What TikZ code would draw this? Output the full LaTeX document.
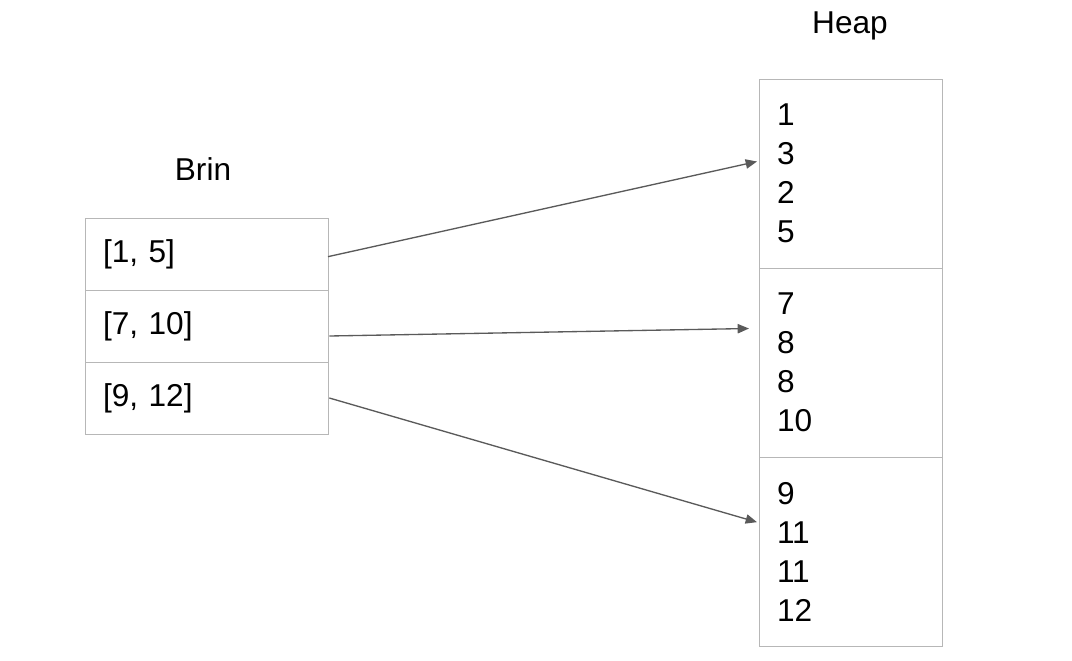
\documentclass[tikz,border=0pt]{standalone}
\usepackage{fontspec}
\setmainfont{Liberation Sans}
\usetikzlibrary{arrows.meta, positioning}
\definecolor{boxgray}{HTML}{B7B7B7}
\definecolor{arrowgray}{HTML}{5A5A5A}

\begin{document}
\begin{tikzpicture}[x=0.75pt, y=-0.75pt, node distance=0pt,
	font=\fontsize{23.7}{29.25}\selectfont,
	cell/.style={draw=boxgray, line width=0.75pt, outer sep=0pt, inner xsep=13.5pt, align=left},
	rangebox/.style={cell, text width=155.25pt, minimum height=54pt},
	pagebox/.style={cell, text width=110.25pt, minimum height=141.75pt},
	link/.style={draw=arrowgray, line width=1pt, -{Triangle[length=8.5pt, width=7pt]}}]
			\useasboundingbox (0,0) rectangle (1072,661);

			% titles
			\node (brin) [anchor=base] at (203,180) {Brin};
			\node (heap) [anchor=base] at (850,33) {Heap};

			% index ranges
			\node (r1) [rangebox, anchor=north west] at (85,218) {[1, 5]};
			\node (r2) [rangebox, below=of r1] {[7, 10]};
			\node (r3) [rangebox, below=of r2] {[9, 12]};

			% heap pages
			\node (h1) [pagebox, anchor=north west] at (759,79) {1\\3\\2\\5};
			\node (h2) [pagebox, below=of h1] {7\\8\\8\\10};
			\node (h3) [pagebox, below=of h2] {9\\11\\11\\12};

			\draw [link] ([yshift=-2pt]r1.east) -- ([xshift=-1.5pt, yshift=9pt]h1.west);
			\draw [link] ([xshift=1pt, yshift=-7.5pt]r2.east) -- ([xshift=-7.5pt, yshift=25.5pt]h2.west);
			\draw [link] ([xshift=1pt]r3.east) -- ([xshift=-1.5pt, yshift=22pt]h3.west);
		\end{tikzpicture}
\end{document}
